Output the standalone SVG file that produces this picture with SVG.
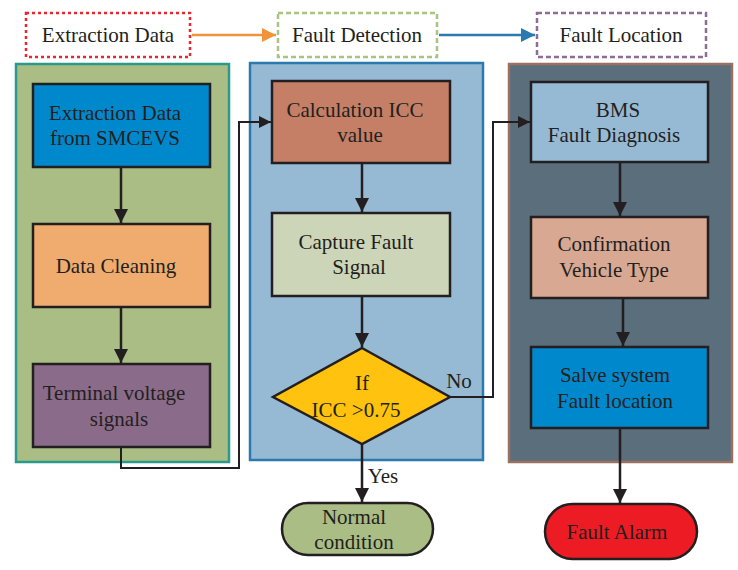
<svg xmlns="http://www.w3.org/2000/svg" width="738" height="570" viewBox="0 0 738 570">
<defs>
<style>
text{font-family:"Liberation Serif","Times New Roman",serif;font-size:21px;fill:#231f20;text-anchor:middle}
.box{stroke:#231f20;stroke-width:2.5}
.conn{fill:none;stroke:#231f20;stroke-width:2.5}
.thin{fill:none;stroke:#231f20;stroke-width:2}
</style>
<marker id="ah" viewBox="0 0 10 10" refX="10" refY="5" markerWidth="12" markerHeight="12" markerUnits="userSpaceOnUse" orient="auto"><path d="M0,0 L10,5 L0,10 z" fill="#231f20"/></marker>
<marker id="ahs" viewBox="0 0 10 10" refX="10" refY="5" markerWidth="14" markerHeight="14" markerUnits="userSpaceOnUse" orient="auto"><path d="M0,0 L10,5 L0,10 z" fill="#231f20"/></marker>
<marker id="aho" viewBox="0 0 10 10" refX="10" refY="5" markerWidth="14" markerHeight="14" markerUnits="userSpaceOnUse" orient="auto"><path d="M0,0 L10,5 L0,10 z" fill="#f0933a"/></marker>
<marker id="ahb" viewBox="0 0 10 10" refX="10" refY="5" markerWidth="14" markerHeight="14" markerUnits="userSpaceOnUse" orient="auto"><path d="M0,0 L10,5 L0,10 z" fill="#2a7ab0"/></marker>
</defs>
<rect width="738" height="570" fill="#ffffff"/>

<g id="header-extraction">
<rect x="26" y="13" width="164" height="44" fill="none" stroke="#e8262f" stroke-width="2.5" stroke-dasharray="3,3"/>
<text x="108" y="42">Extraction Data</text>
</g>
<g id="header-detection">
<rect x="278" y="13" width="159" height="44" fill="none" stroke="#a9c47f" stroke-width="2.5" stroke-dasharray="5,3"/>
<text x="357" y="42">Fault Detection</text>
</g>
<g id="header-location">
<rect x="537" y="13" width="169" height="44" fill="none" stroke="#8c6d94" stroke-width="2.5" stroke-dasharray="5,3"/>
<text x="621" y="42">Fault Location</text>
</g>

<g id="panel-extraction"><rect x="16" y="64" width="213" height="398" fill="#a9bd84" stroke="#2a9a8a" stroke-width="2.5"/></g>
<g id="panel-detection"><rect x="250" y="63" width="233" height="397" fill="#97bad4" stroke="#2a7ab0" stroke-width="2.5"/></g>
<g id="panel-location"><rect x="509" y="64" width="223" height="398" fill="#5b6e7c" stroke="#9a7060" stroke-width="2.5"/></g>

<g id="n-extract">
<rect class="box" x="33" y="84" width="177" height="83" fill="#0088cc"/>
<text x="115" y="120">Extraction Data</text>
<text x="115" y="145">from SMCEVS</text>
</g>
<g id="n-clean">
<rect class="box" x="33" y="224" width="177" height="83" fill="#f0ab6e"/>
<text x="116" y="273">Data Cleaning</text>
</g>
<g id="n-terminal">
<rect class="box" x="33" y="364" width="177" height="83" fill="#8b6b8a"/>
<text x="114" y="400">Terminal voltage</text>
<text x="119" y="426">signals</text>
</g>

<g id="n-calc">
<rect class="box" x="272" y="81" width="178" height="82" fill="#c47f66"/>
<text x="355" y="117">Calculation ICC</text>
<text x="360" y="142">value</text>
</g>
<g id="n-capture">
<rect class="box" x="272" y="213" width="178" height="83" fill="#cdd5b8"/>
<text x="356" y="249">Capture Fault</text>
<text x="359" y="274">Signal</text>
</g>
<g id="n-if">
<polygon class="box" points="362,348 450,397 362,444 273,397" fill="#ffc20e"/>
<text x="362" y="390">If</text>
<text x="356" y="417">ICC &gt;0.75</text>
</g>
<g id="n-normal">
<rect class="box" x="282" y="503" width="151" height="52" rx="26" fill="#a9bd84"/>
<text x="354" y="524">Normal</text>
<text x="354" y="549">condition</text>
</g>

<g id="n-bms">
<rect class="box" x="531" y="82" width="177" height="80" fill="#97bad4"/>
<text x="618" y="117">BMS</text>
<text x="614" y="142">Fault Diagnosis</text>
</g>
<g id="n-confirm">
<rect class="box" x="531" y="217" width="177" height="81" fill="#d8a893"/>
<text x="614" y="251">Confirmation</text>
<text x="614" y="277">Vehicle Type</text>
</g>
<g id="n-salve">
<rect class="box" x="531" y="347" width="177" height="81" fill="#0088cc"/>
<text x="615" y="382">Salve system</text>
<text x="615" y="408">Fault location</text>
</g>
<g id="n-alarm">
<rect class="box" x="545" y="504" width="152" height="55" rx="27.5" fill="#ed1c24"/>
<text x="617" y="539">Fault Alarm</text>
</g>

<g id="connectors">
<line x1="192" y1="35" x2="276" y2="35" stroke="#f0933a" stroke-width="2.5" marker-end="url(#aho)"/>
<line x1="439" y1="35" x2="535" y2="35" stroke="#2a7ab0" stroke-width="2.5" marker-end="url(#ahb)"/>
<line class="conn" x1="121" y1="167" x2="121" y2="223" marker-end="url(#ahs)"/>
<line class="conn" x1="121" y1="307" x2="121" y2="363" marker-end="url(#ahs)"/>
<polyline class="thin" points="121,447 121,468 239,468 239,122 271,122" marker-end="url(#ah)"/>
<line class="conn" x1="362" y1="163" x2="362" y2="212" marker-end="url(#ahs)"/>
<line class="conn" x1="362" y1="296" x2="362" y2="347" marker-end="url(#ahs)"/>
<line class="conn" x1="362" y1="444" x2="362" y2="502" marker-end="url(#ahs)"/>
<polyline class="thin" points="450,397 493,397 493,122 530,122" marker-end="url(#ah)"/>
<line class="conn" x1="620" y1="162" x2="620" y2="216" marker-end="url(#ahs)"/>
<line class="conn" x1="623" y1="298" x2="623" y2="346" marker-end="url(#ahs)"/>
<line class="conn" x1="620" y1="428" x2="620" y2="503" marker-end="url(#ahs)"/>
<text x="459" y="388">No</text>
<text x="383" y="483">Yes</text>
</g>
</svg>
